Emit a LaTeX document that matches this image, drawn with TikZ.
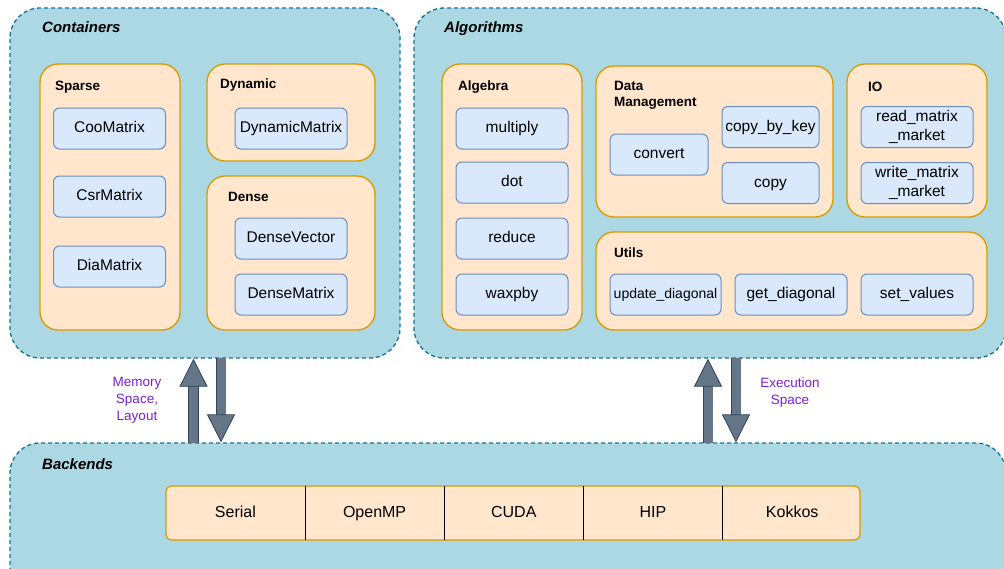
\documentclass[tikz,border=0pt]{standalone}
\usepackage{fontspec}
\setmainfont{Liberation Sans}
\usetikzlibrary{positioning, arrows.meta}
\usepackage{xcolor}

\definecolor{outerfill}{HTML}{ABD8E2}
\definecolor{outerline}{HTML}{10739E}
\definecolor{grpfill}{HTML}{FFE6CC}
\definecolor{grpline}{HTML}{D79B00}
\definecolor{itemfill}{HTML}{DAE8FC}
\definecolor{itemline}{HTML}{6C8EBF}
\definecolor{slate}{HTML}{647687}
\definecolor{slatedark}{HTML}{314354}
\definecolor{notepurple}{HTML}{7B1FD1}

\tikzset{
  outerbox/.style={draw=outerline, fill=outerfill, dash pattern=on 4pt off 3pt, line width=1.3pt, rounded corners=30pt, inner sep=0pt},
  grpbox/.style={draw=grpline, fill=grpfill, line width=1.3pt, rounded corners=18pt, inner sep=0pt},
  itembase/.style={draw=itemline, fill=itemfill, line width=1pt, rounded corners=6pt, minimum width=112pt, minimum height=41pt, inner sep=1pt, align=center, font=\fontsize{15.5}{19}\selectfont},
  item/.style={itembase, text height=11.5pt, text depth=3.5pt},
  outertitle/.style={anchor=west, inner sep=0pt, text height=11pt, text depth=3pt, font=\bfseries\itshape\fontsize{15}{17}\selectfont},
  grptitle/.style={anchor=west, inner sep=0pt, align=left, font=\bfseries\fontsize{13.5}{16}\selectfont},
  cell/.style={minimum width=138.8pt, minimum height=54pt, inner sep=0pt, text height=11.5pt, text depth=3.5pt, font=\fontsize{16}{18}\selectfont},
  note/.style={align=center, text=notepurple, inner sep=0pt, font=\fontsize{13.5}{17}\selectfont},
  fatarrow/.style={draw=slate, line width=9pt, -{Triangle[width=28pt, length=28pt, line width=0.8pt, fill=slate, color=slatedark]},
    preaction={draw=slatedark, line width=10.6pt, -, shorten >=27pt}}
}

\begin{document}
\begin{tikzpicture}[x=1pt, y=-1pt]
\useasboundingbox (0,0) rectangle (1004,568);
\clip (0,0) rectangle (1004,568);
%outer containers
\node[outerbox, minimum width=390pt, minimum height=350pt] (containers) at (205,183) {};
\node[outerbox, minimum width=592pt, minimum height=350pt] (algorithms) at (710,183) {};
\node[outerbox, minimum width=996pt, minimum height=157pt] (backends) at (508,521.5) {};
\node[outertitle] (contt) at (42,28) {Containers};
\node[outertitle] (algt) at (444,28) {Algorithms};
\node[outertitle] (backt) at (42,465) {Backends};
%%
%containers (left)
\node[grpbox, minimum width=140pt, minimum height=266pt] (sparse) at (110,197) {};
\node[grpbox, minimum width=168pt, minimum height=97pt] (dynamic) at (291,112.5) {};
\node[grpbox, minimum width=168pt, minimum height=154pt] (dense) at (291,253) {};
\node[grptitle] (sparset) at (55,87) {Sparse};
\node[grptitle] (dynamict) at (220,85) {Dynamic};
\node[grptitle] (denset) at (228,197) {Dense};
\node[item] (coo) at (109.5,128.5) {CooMatrix};
\node[item] (csr) at (109.5,196.5) {CsrMatrix};
\node[item] (dia) at (109.5,266.5) {DiaMatrix};
\node[item] (dynmat) at (291,128.5) {DynamicMatrix};
\node[item] (densevec) at (291,238.5) {DenseVector};
\node[item] (densemat) at (291,294.5) {DenseMatrix};
%%
%algorithms (right)
\node[grpbox, minimum width=140pt, minimum height=266pt] (algebra) at (512,197) {};
\node[grpbox, minimum width=237pt, minimum height=151pt] (datamgmt) at (714.5,141.5) {};
\node[grpbox, minimum width=140pt, minimum height=153pt] (io) at (917,140.5) {};
\node[grpbox, minimum width=391pt, minimum height=98pt] (utils) at (791.5,281) {};
\node[grptitle] (algebrat) at (458,87) {Algebra};
\node[grptitle] (datamgmtt) at (614,95) {Data\\Management};
\node[grptitle] (iot) at (868,87) {IO};
\node[grptitle] (utilst) at (614,253) {Utils};
\foreach \n/\y/\t in {multiply/128.5/multiply, dot/182.5/dot, reduce/238.5/reduce, waxpby/294.5/waxpby}
  \node[item] (\n) at (512,\y) {\t};
\node[item, minimum width=98pt] (convert) at (659,154.5) {convert};
\node[item, minimum width=97pt] (copybykey) at (770.5,127) {copy\_by\_key};
\node[item, minimum width=97pt] (copy) at (770.5,183) {copy};
\node[itembase] (readmm) at (917,127) {read\_matrix\\\_market};
\node[itembase] (writemm) at (917,183) {write\_matrix\\\_market};
\node[item, minimum width=111pt, font=\fontsize{14}{16}\selectfont] (upddiag) at (665.5,294.5) {update\_diagonal};
\node[item] (getdiag) at (791,294.5) {get\_diagonal};
\node[item] (setvals) at (917,294.5) {set\_values};
%%
%backends strip
\draw[draw=grpline, fill=grpfill, line width=1.2pt, rounded corners=6pt] (166,486) rectangle (860,540);
\node[cell] (serial) at (235.4,513) {Serial};
\node[cell, right=0pt of serial] (openmp) {OpenMP};
\node[cell, right=0pt of openmp] (cuda) {CUDA};
\node[cell, right=0pt of cuda] (hip) {HIP};
\node[cell, right=0pt of hip] (kokkos) {Kokkos};
\foreach \c in {serial, openmp, cuda, hip}
  \draw[black, line width=0.8pt] (\c.north east) -- (\c.south east);
%%
%arrows between layers
\coordinate (memup) at (193.5,443);
\coordinate (memdown) at (221,358);
\coordinate (exeup) at (708,443);
\coordinate (exedown) at (736,358);
\draw[fatarrow] (memup) -- (memup |- containers.south);
\draw[fatarrow] (memdown) -- (memdown |- backends.north);
\draw[fatarrow] (exeup) -- (exeup |- algorithms.south);
\draw[fatarrow] (exedown) -- (exedown |- backends.north);
%label (arrows)
\node[note] (memnote) at (137,400) {Memory\\Space,\\Layout};
\node[note] (exenote) at (790,393) {Execution\\Space};
\end{tikzpicture}
\end{document}
